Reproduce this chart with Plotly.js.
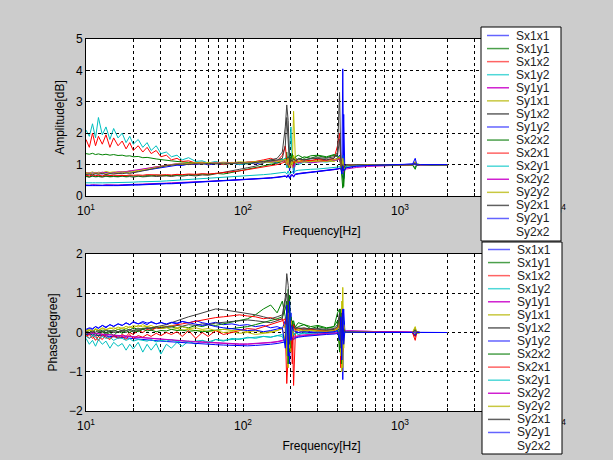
<!DOCTYPE html>
<html>
<head>
<meta charset="utf-8">
<script src="https://cdn.plot.ly/plotly-3.0.1.min.js"></script>
<style>html,body{margin:0;padding:0;background:#cccccc;}#chart{width:613px;height:460px;}</style>
</head>
<body>
<div id="chart"></div>
<script>
// Frequency axis [Hz]
const freq = [10,10.5,11,11.5,12,12.7,13.4,14.2,15,16,
  17,18,19,20,21.5,23,24.5,26,28,30,
  32.5,35,38,41,45,50,55,60,67,75,
  85,95,107,120,135,150,165,178,186,190,
  194,198,202,206,210,216,225,245,270,300,
  340,380,400,412,420,426,432,438,445,455,
  480,530,620,750,900,1100,1200,1250,1280,1350,
  1600,2000];

const seriesNames = ['Sx1x1','Sx1y1','Sx1x2','Sx1y2','Sy1y1','Sy1x1','Sy1x2','Sy1y2',
  'Sx2x2','Sx2x1','Sx2y1','Sx2y2','Sy2y2','Sy2x1','Sy2y1','Sy2x2'];

const xTickVals = [10,20,30,40,50,60,70,80,90,100,200,300,400,500,600,700,800,900,1000,2000,3000,4000,5000,6000,7000,8000,9000,10000];
const xTickText = ['10<sup>1</sup>','','','','','','','','','10<sup>2</sup>','','','','','','','','','10<sup>3</sup>','','','','','','','','','10<sup>4</sup>'];

// Amplitude [dB]
const amp_Sx1x1 = [0.72,0.70,0.74,0.71,0.73,0.70,0.75,0.72,0.74,0.73,
  0.76,0.74,0.78,0.75,0.79,0.80,0.83,0.85,0.88,0.90,
  0.93,0.95,0.98,0.97,1.02,1.00,1.04,0.99,1.03,1.01,
  1.05,1.00,1.06,1.02,1.08,1.10,1.05,1.12,1.20,0.95,
  1.25,0.80,1.15,1.30,0.70,1.10,1.05,1.12,1.08,1.10,
  1.12,1.15,1.20,1.30,1.10,0.70,4.05,0.55,0.90,1.00,
  0.98,1.00,0.99,1.00,0.98,1.00,1.02,1.08,0.97,1.00,
  1.00,0.99];
const amp_Sx1y1 = [1.35,1.33,1.36,1.32,1.34,1.31,1.33,1.30,1.32,1.29,
  1.30,1.27,1.28,1.25,1.26,1.22,1.23,1.20,1.18,1.16,
  1.15,1.12,1.10,1.08,1.07,1.05,1.06,1.03,1.04,1.02,
  1.03,1.05,1.02,1.08,1.10,1.15,1.12,1.18,1.05,1.40,
  0.90,1.30,1.15,1.25,0.95,1.20,1.15,1.25,1.20,1.28,
  1.22,1.30,1.25,1.15,1.10,0.80,0.50,0.30,0.85,0.95,
  0.97,0.99,1.00,0.98,0.99,1.00,0.98,0.90,1.02,1.00,
  0.99,1.00];
const amp_Sx1x2 = [1.80,1.55,2.00,1.60,1.90,1.65,1.95,1.55,1.85,1.60,
  1.75,1.50,1.70,1.45,1.60,1.40,1.55,1.35,1.45,1.25,
  1.30,1.15,1.20,1.10,1.12,1.05,1.08,1.02,1.06,1.00,
  1.05,1.02,1.08,1.10,1.15,1.20,1.12,1.30,1.60,1.10,
  0.95,1.20,1.10,1.15,1.05,1.18,1.10,1.15,1.12,1.18,
  1.15,1.20,1.60,2.00,1.20,0.80,0.95,0.90,0.95,1.00,
  0.98,0.99,1.00,0.99,1.00,1.00,0.99,1.05,0.98,1.00,
  1.00,0.99];
const amp_Sx1y2 = [2.10,1.90,2.30,1.85,2.50,1.95,2.20,1.80,2.15,1.85,
  2.00,1.70,1.90,1.65,1.80,1.55,1.70,1.45,1.60,1.35,
  1.40,1.25,1.30,1.15,1.22,1.10,1.12,1.05,1.10,1.02,
  1.05,1.00,1.04,1.08,1.10,1.05,1.12,1.15,1.20,0.90,
  1.00,1.40,2.20,1.10,0.80,1.05,1.00,1.08,1.05,1.10,
  1.08,1.12,1.15,1.20,1.00,0.75,1.30,0.80,0.95,1.00,
  0.98,1.00,0.99,1.00,0.99,1.00,1.00,1.03,0.98,1.00,
  0.99,1.00];
const amp_Sy1y1 = [0.35,0.34,0.36,0.35,0.35,0.34,0.36,0.35,0.36,0.35,
  0.36,0.36,0.37,0.37,0.38,0.38,0.39,0.39,0.40,0.41,
  0.41,0.42,0.43,0.43,0.44,0.45,0.46,0.47,0.48,0.49,
  0.50,0.51,0.52,0.54,0.56,0.58,0.60,0.62,0.64,0.63,
  0.66,0.62,0.68,0.66,0.65,0.70,0.72,0.74,0.76,0.78,
  0.80,0.83,0.85,0.87,0.86,0.80,0.85,0.75,0.82,0.86,
  0.88,0.91,0.94,0.96,0.98,0.99,0.99,1.00,0.98,0.99,
  1.00,1.00];
const amp_Sy1x1 = [0.75,0.73,0.77,0.72,0.76,0.74,0.78,0.75,0.77,0.76,
  0.78,0.77,0.80,0.79,0.82,0.84,0.87,0.90,0.93,0.95,
  0.97,1.00,1.02,1.05,1.03,1.06,1.04,1.07,1.05,1.08,
  1.06,1.09,1.07,1.10,1.12,1.08,1.14,1.10,1.15,1.05,
  1.10,1.00,1.20,0.90,2.70,1.05,1.10,1.12,1.08,1.10,
  1.12,1.10,1.15,1.20,1.05,0.90,1.10,0.85,0.95,1.00,
  0.98,1.00,0.99,1.00,1.00,0.99,1.00,1.10,0.98,1.00,
  1.00,0.99];
const amp_Sy1x2 = [0.62,0.60,0.63,0.61,0.62,0.60,0.63,0.61,0.62,0.61,
  0.63,0.61,0.62,0.60,0.63,0.61,0.62,0.64,0.62,0.63,
  0.64,0.62,0.65,0.63,0.66,0.64,0.67,0.66,0.70,0.75,
  0.80,0.85,0.90,0.95,1.05,1.15,1.20,1.40,2.20,2.90,
  2.40,1.10,1.20,1.15,1.25,1.10,1.20,1.15,1.18,1.20,
  1.15,1.20,1.40,3.30,1.10,0.90,1.05,0.90,0.95,1.00,
  0.98,1.00,0.99,1.00,0.99,1.00,1.00,1.02,0.98,1.00,
  0.99,1.00];
const amp_Sy1y2 = [0.33,0.32,0.33,0.33,0.32,0.33,0.33,0.32,0.33,0.33,
  0.34,0.34,0.34,0.35,0.35,0.36,0.36,0.37,0.37,0.38,
  0.39,0.39,0.40,0.41,0.42,0.43,0.44,0.45,0.46,0.47,
  0.48,0.50,0.51,0.53,0.55,0.57,0.59,0.61,0.63,0.60,
  0.65,0.58,0.64,0.66,0.62,0.68,0.70,0.72,0.75,0.78,
  0.81,0.84,0.86,0.88,0.90,0.92,1.00,2.60,0.85,0.90,
  0.92,0.95,0.97,0.98,0.99,1.00,1.00,1.20,0.99,1.00,
  1.00,1.00];
const amp_Sx2x2 = [0.63,0.61,0.64,0.62,0.63,0.62,0.64,0.62,0.63,0.62,
  0.64,0.62,0.65,0.63,0.64,0.63,0.65,0.64,0.66,0.65,
  0.66,0.65,0.67,0.66,0.68,0.67,0.70,0.68,0.72,0.70,
  0.75,0.80,0.85,0.90,0.95,1.00,1.05,1.10,1.15,1.20,
  1.10,1.30,1.20,1.35,1.15,1.25,1.30,1.20,1.28,1.30,
  1.25,1.32,1.28,1.20,1.00,0.40,0.25,0.60,0.90,0.97,
  0.99,1.00,0.99,1.00,0.98,1.00,0.99,0.85,1.01,1.00,
  1.00,0.99];
const amp_Sx2x1 = [0.66,0.64,0.67,0.65,0.66,0.64,0.67,0.65,0.66,0.65,
  0.66,0.65,0.67,0.66,0.67,0.66,0.68,0.67,0.68,0.67,
  0.68,0.67,0.69,0.68,0.70,0.69,0.71,0.70,0.72,0.74,
  0.76,0.80,0.84,0.88,0.92,0.96,1.00,1.05,1.10,1.00,
  1.20,0.90,1.10,1.05,0.95,1.12,1.08,1.10,1.12,1.15,
  1.12,1.15,1.18,1.20,1.05,0.85,0.95,0.88,0.95,1.00,
  0.98,1.00,0.99,1.00,1.00,0.99,1.00,1.04,0.98,1.00,
  1.00,1.00];
const amp_Sx2y1 = [0.42,0.41,0.42,0.42,0.41,0.42,0.42,0.42,0.43,0.43,
  0.43,0.44,0.44,0.44,0.45,0.45,0.46,0.46,0.47,0.47,
  0.48,0.49,0.50,0.51,0.52,0.53,0.54,0.55,0.57,0.58,
  0.60,0.62,0.64,0.66,0.68,0.70,0.72,0.74,0.76,0.70,
  0.80,0.68,0.75,0.78,0.72,0.80,0.82,0.84,0.85,0.86,
  0.88,0.90,0.92,0.94,0.90,0.80,0.95,0.85,0.92,0.95,
  0.96,0.98,0.99,1.00,0.99,1.00,1.00,1.02,0.99,1.00,
  1.00,1.00];
const amp_Sx2y2 = [0.72,0.74,0.71,0.75,0.72,0.76,0.73,0.75,0.74,0.77,
  0.76,0.78,0.79,0.81,0.83,0.86,0.88,0.91,0.94,0.96,
  0.98,1.00,1.03,1.01,1.04,1.02,1.05,1.03,1.06,1.04,
  1.07,1.05,1.08,1.06,1.10,1.08,1.12,1.10,1.15,1.00,
  1.15,0.95,1.10,1.05,0.90,1.08,1.05,1.10,1.06,1.08,
  1.10,1.12,1.15,1.18,1.05,0.85,1.00,0.90,0.96,1.00,
  0.99,1.00,1.00,1.00,0.99,1.00,1.00,1.03,0.99,1.00,
  1.00,1.00];
const amp_Sy2y2 = [0.70,0.73,0.69,0.74,0.71,0.73,0.70,0.75,0.72,0.74,
  0.73,0.76,0.75,0.78,0.80,0.82,0.85,0.88,0.92,0.94,
  0.97,0.99,1.02,1.00,1.05,1.03,1.06,1.02,1.05,1.03,
  1.06,1.04,1.08,1.05,1.09,1.07,1.10,1.12,1.18,1.00,
  1.20,0.90,1.12,1.00,1.30,1.05,1.10,1.08,1.10,1.12,
  1.10,1.14,1.18,1.25,1.10,0.80,1.20,0.85,0.95,1.00,
  0.98,1.00,0.99,1.00,1.00,1.00,0.99,1.06,0.98,1.00,
  0.99,1.00];
const amp_Sy2x1 = [0.68,0.70,0.67,0.71,0.69,0.72,0.68,0.71,0.70,0.72,
  0.71,0.73,0.72,0.75,0.77,0.80,0.83,0.86,0.90,0.93,
  0.96,0.98,1.00,1.02,1.00,1.03,1.01,1.04,1.02,1.05,
  1.03,1.06,1.04,1.08,1.10,1.12,1.15,1.20,1.60,2.50,
  1.80,1.00,1.15,1.10,1.20,1.12,1.18,1.15,1.20,1.22,
  1.20,1.25,1.30,1.80,1.10,0.80,1.00,0.88,0.95,1.00,
  0.98,1.00,0.99,1.00,1.00,0.99,1.00,1.04,0.98,1.00,
  1.00,1.00];
const amp_Sy2y1 = [0.34,0.33,0.34,0.34,0.33,0.34,0.34,0.33,0.34,0.34,
  0.35,0.35,0.35,0.36,0.36,0.37,0.37,0.38,0.38,0.39,
  0.40,0.40,0.41,0.42,0.43,0.44,0.45,0.46,0.47,0.48,
  0.49,0.51,0.52,0.54,0.56,0.58,0.60,0.62,0.64,0.58,
  0.68,0.56,0.66,0.68,0.60,0.70,0.72,0.74,0.76,0.79,
  0.82,0.85,0.87,0.89,0.88,0.70,0.95,0.80,0.86,0.90,
  0.92,0.95,0.97,0.98,0.99,1.00,1.00,1.02,0.99,1.00,
  1.00,1.00];

// Phase [degree]
const ph_Sx1x1 = [0.05,0.10,0.08,0.15,0.10,0.18,0.12,0.20,0.15,0.22,
  0.18,0.25,0.20,0.28,0.22,0.25,0.20,0.28,0.22,0.26,
  0.20,0.25,0.22,0.28,0.24,0.30,0.25,0.22,0.26,0.20,
  0.22,0.18,0.20,0.15,0.18,0.12,0.15,0.10,0.30,-0.50,
  0.60,-0.80,0.50,-0.30,0.20,0.05,0.00,0.05,0.02,0.00,
  0.02,0.00,0.05,0.10,-0.20,0.60,-1.20,0.30,0.05,0.02,
  0.01,0.00,0.01,0.00,0.01,0.00,0.00,0.10,-0.02,0.00,
  0.00,0.00];
const ph_Sx1y1 = [0.00,0.05,-0.02,0.08,0.02,0.06,0.00,0.05,0.03,0.08,
  0.05,0.10,0.06,0.12,0.08,0.10,0.12,0.08,0.12,0.10,
  0.12,0.15,0.10,0.15,0.12,0.18,0.15,0.20,0.18,0.22,
  0.25,0.30,0.35,0.45,0.60,0.70,0.50,0.80,0.40,-0.60,
  1.10,-0.50,0.40,0.20,0.30,0.10,0.15,0.20,0.10,0.15,
  0.10,0.15,0.50,0.60,-0.80,0.30,0.10,-0.20,0.05,0.02,
  0.02,0.01,0.00,0.01,0.00,0.00,0.00,-0.10,0.02,0.00,
  0.00,0.00];
const ph_Sx1x2 = [-0.05,-0.15,-0.08,-0.20,-0.10,-0.18,-0.05,-0.15,-0.08,-0.12,
  -0.05,-0.10,0.00,-0.05,0.05,0.00,0.08,0.05,0.12,0.10,
  0.15,0.18,0.20,0.22,0.25,0.28,0.32,0.35,0.38,0.40,
  0.42,0.45,0.42,0.40,0.35,0.38,0.32,0.35,0.10,-1.30,
  -0.60,0.30,-0.40,0.20,-1.35,0.10,0.05,0.10,0.08,0.05,
  0.05,0.08,0.10,0.30,-0.90,0.60,-0.50,0.20,0.02,0.01,
  0.01,0.00,0.00,0.00,0.00,0.00,0.00,-0.20,0.01,0.00,
  0.00,0.00];
const ph_Sx1y2 = [-0.15,-0.30,-0.20,-0.35,-0.18,-0.30,-0.22,-0.40,-0.25,-0.35,
  -0.28,-0.45,-0.30,-0.42,-0.25,-0.50,-0.30,-0.45,-0.28,-0.55,
  -0.30,-0.40,-0.25,-0.35,-0.22,-0.30,-0.20,-0.28,-0.18,-0.22,
  -0.15,-0.18,-0.12,-0.15,-0.10,-0.12,-0.08,-0.05,-0.20,0.40,
  -0.60,0.50,-0.30,0.20,-0.10,0.00,-0.05,0.00,-0.02,0.00,
  0.00,0.02,0.05,-0.20,0.30,-0.50,0.20,0.10,0.02,0.01,
  0.00,0.00,0.01,0.00,0.00,0.00,0.00,0.05,0.00,0.00,
  0.00,0.00];
const ph_Sy1y1 = [-0.02,-0.03,-0.03,-0.04,-0.04,-0.05,-0.05,-0.06,-0.07,-0.08,
  -0.09,-0.10,-0.11,-0.12,-0.13,-0.14,-0.15,-0.16,-0.17,-0.18,
  -0.19,-0.20,-0.21,-0.22,-0.23,-0.24,-0.25,-0.26,-0.27,-0.28,
  -0.29,-0.30,-0.30,-0.29,-0.28,-0.26,-0.24,-0.22,-0.20,-0.15,
  -0.25,-0.10,-0.20,-0.12,-0.15,-0.12,-0.10,-0.08,-0.07,-0.05,
  -0.04,-0.03,-0.02,-0.01,0.05,-0.10,0.05,0.08,0.05,0.04,
  0.04,0.03,0.03,0.02,0.02,0.01,0.01,0.01,0.01,0.00,
  0.00,0.00];
const ph_Sy1x1 = [0.05,0.08,0.04,0.10,0.06,0.12,0.08,0.10,0.12,0.08,
  0.12,0.10,0.15,0.12,0.18,0.14,0.16,0.12,0.15,0.10,
  0.12,0.08,0.10,0.06,0.08,0.05,0.06,0.02,0.05,0.00,
  0.02,-0.02,0.00,-0.05,-0.02,0.00,0.05,0.10,-0.20,0.30,
  -0.90,0.40,-0.50,0.20,0.05,0.10,0.05,0.02,0.05,0.02,
  0.03,0.05,0.08,-0.30,0.40,-1.00,1.15,-0.40,0.05,0.02,
  0.02,0.01,0.01,0.00,0.00,0.00,0.00,0.15,-0.02,0.00,
  0.00,0.00];
const ph_Sy1x2 = [0.00,-0.02,0.02,-0.03,0.00,0.02,-0.02,0.03,0.00,0.02,
  0.03,0.00,0.05,0.02,0.06,0.08,0.10,0.12,0.15,0.18,
  0.20,0.25,0.30,0.35,0.40,0.45,0.50,0.55,0.60,0.58,
  0.55,0.52,0.48,0.45,0.40,0.35,0.40,0.45,0.90,1.50,
  1.20,0.40,0.30,0.20,0.10,0.15,0.10,0.12,0.08,0.10,
  0.08,0.10,0.20,0.50,-0.20,0.30,-0.30,0.10,0.02,0.01,
  0.01,0.00,0.00,0.00,0.00,0.00,0.00,0.08,0.00,0.00,
  0.00,0.00];
const ph_Sy1y2 = [-0.05,-0.05,-0.06,-0.07,-0.08,-0.08,-0.09,-0.10,-0.11,-0.12,
  -0.13,-0.14,-0.15,-0.16,-0.17,-0.18,-0.19,-0.20,-0.21,-0.22,
  -0.23,-0.24,-0.25,-0.26,-0.27,-0.28,-0.29,-0.30,-0.31,-0.32,
  -0.33,-0.34,-0.34,-0.33,-0.32,-0.30,-0.28,-0.26,-0.24,-0.10,
  -0.30,-0.12,-0.22,-0.15,-0.18,-0.14,-0.12,-0.10,-0.08,-0.06,
  -0.05,-0.04,-0.03,-0.02,0.10,-0.30,0.20,0.60,0.05,0.03,
  0.03,0.02,0.02,0.01,0.01,0.01,0.00,0.00,0.00,0.00,
  0.00,0.00];
const ph_Sx2x2 = [-0.05,0.00,-0.08,-0.02,-0.10,0.02,-0.05,0.00,-0.08,0.03,
  -0.02,0.05,0.00,0.06,0.02,0.08,0.04,0.06,0.02,0.05,
  0.04,0.08,0.05,0.06,0.03,0.05,0.02,0.04,0.06,0.08,
  0.10,0.12,0.15,0.20,0.25,0.30,0.35,0.40,0.60,0.80,
  -0.80,0.95,-0.40,0.30,0.20,0.15,0.25,0.20,0.15,0.18,
  0.12,0.15,0.30,-0.50,0.60,-0.80,0.40,-0.10,0.03,0.02,
  0.01,0.01,0.00,0.00,0.00,0.00,0.00,-0.05,0.01,0.00,
  0.00,0.00];
const ph_Sx2x1 = [-0.10,-0.05,-0.15,-0.08,-0.20,-0.05,-0.12,-0.18,-0.08,-0.15,
  -0.10,-0.18,-0.05,-0.15,-0.08,-0.12,-0.05,-0.10,-0.02,-0.08,
  0.00,-0.05,0.02,-0.10,0.05,-0.15,0.00,-0.10,0.05,-0.05,
  0.00,0.05,0.10,0.08,0.15,0.20,0.25,0.30,0.35,0.10,
  -0.40,-0.20,0.30,-0.80,0.20,0.05,0.10,0.05,0.08,0.05,
  0.04,0.05,0.10,0.20,-0.30,0.60,-0.20,0.10,0.02,0.01,
  0.01,0.00,0.00,0.00,0.00,0.00,0.00,-0.10,0.00,0.00,
  0.00,0.00];
const ph_Sx2y1 = [-0.10,-0.15,-0.08,-0.12,-0.18,-0.10,-0.15,-0.12,-0.20,-0.14,
  -0.15,-0.20,-0.16,-0.22,-0.18,-0.20,-0.22,-0.18,-0.24,-0.20,
  -0.22,-0.18,-0.24,-0.20,-0.25,-0.22,-0.20,-0.24,-0.18,-0.20,
  -0.18,-0.15,-0.14,-0.12,-0.10,-0.12,-0.08,-0.10,-0.30,0.20,
  -0.40,0.60,-0.20,0.10,-0.05,0.00,-0.05,-0.02,-0.04,-0.02,
  -0.02,0.00,0.05,-0.10,0.20,-0.40,0.30,-0.10,0.01,0.00,
  0.00,0.00,0.00,0.00,0.00,0.00,0.00,0.02,0.00,0.00,
  0.00,0.00];
const ph_Sx2y2 = [0.00,-0.02,-0.01,-0.03,-0.03,-0.04,-0.05,-0.06,-0.06,-0.07,
  -0.08,-0.09,-0.10,-0.11,-0.12,-0.13,-0.14,-0.15,-0.16,-0.17,
  -0.18,-0.19,-0.20,-0.21,-0.22,-0.23,-0.24,-0.25,-0.26,-0.27,
  -0.28,-0.29,-0.29,-0.28,-0.27,-0.25,-0.23,-0.21,-0.18,-0.10,
  -0.22,-0.08,-0.18,-0.10,-0.12,-0.10,-0.08,-0.06,-0.05,-0.04,
  -0.03,-0.02,-0.01,0.00,0.06,-0.08,0.06,0.07,0.05,0.04,
  0.04,0.03,0.03,0.02,0.02,0.01,0.01,0.02,0.01,0.00,
  0.00,0.00];
const ph_Sy2y2 = [0.02,0.06,0.03,0.08,0.05,0.10,0.06,0.12,0.08,0.14,
  0.10,0.16,0.12,0.18,0.14,0.20,0.15,0.18,0.12,0.16,
  0.14,0.18,0.12,0.15,0.10,0.12,0.08,0.10,0.05,0.08,
  0.05,0.06,0.02,0.04,0.00,0.02,0.05,0.10,0.20,-0.60,
  0.50,-0.40,0.30,-0.10,0.10,0.05,0.08,0.05,0.06,0.04,
  0.04,0.06,0.10,0.30,-0.60,0.80,-0.90,0.20,0.03,0.02,
  0.02,0.01,0.01,0.00,0.00,0.00,0.00,0.12,-0.02,0.00,
  0.00,0.00];
const ph_Sy2x1 = [0.02,0.00,0.04,0.01,0.05,0.02,0.06,0.03,0.05,0.02,
  0.06,0.04,0.08,0.05,0.10,0.08,0.12,0.10,0.14,0.12,
  0.15,0.14,0.18,0.16,0.20,0.18,0.22,0.20,0.24,0.26,
  0.28,0.30,0.32,0.30,0.28,0.25,0.30,0.35,0.80,1.00,
  0.30,-0.30,0.20,0.10,0.15,0.10,0.12,0.08,0.10,0.08,
  0.06,0.08,0.15,0.40,-0.40,0.50,-0.20,0.10,0.02,0.01,
  0.01,0.00,0.00,0.00,0.00,0.00,0.00,0.06,0.00,0.00,
  0.00,0.00];
const ph_Sy2y1 = [0.08,0.12,0.10,0.15,0.12,0.18,0.14,0.20,0.16,0.22,
  0.18,0.24,0.20,0.26,0.22,0.28,0.24,0.26,0.22,0.25,
  0.22,0.26,0.24,0.28,0.25,0.22,0.18,0.20,0.15,0.12,
  0.10,0.08,0.05,0.06,0.02,0.05,0.08,0.12,-0.40,0.70,
  -0.60,0.80,-0.20,0.15,0.05,0.02,0.00,0.02,0.00,0.01,
  0.00,0.02,0.05,-0.20,0.40,-0.70,0.60,-0.30,0.02,0.01,
  0.01,0.00,0.00,0.00,0.00,0.00,0.00,-0.08,0.00,0.00,
  0.00,0.00];

const ampSeries = [amp_Sx1x1,amp_Sx1y1,amp_Sx1x2,amp_Sx1y2,amp_Sy1y1,amp_Sy1x1,amp_Sy1x2,amp_Sy1y2,
  amp_Sx2x2,amp_Sx2x1,amp_Sx2y1,amp_Sx2y2,amp_Sy2y2,amp_Sy2x1,amp_Sy2y1];
const phSeries = [ph_Sx1x1,ph_Sx1y1,ph_Sx1x2,ph_Sx1y2,ph_Sy1y1,ph_Sy1x1,ph_Sy1x2,ph_Sy1y2,
  ph_Sx2x2,ph_Sx2x1,ph_Sx2y1,ph_Sx2y2,ph_Sy2y2,ph_Sy2x1,ph_Sy2y1];

// MATLAB colour order b g r c m y k
const lineColors = ['#0000ff','#008000','#ff0000','#00bfbf','#bf00bf','#bfbf00','#404040'];
const legendColors = ['#6464ff','#4ca04c','#ff6464','#50d8d8','#d020d0','#c8c840','#606060'];

const traces = [];
ampSeries.forEach((s, i) => {
  traces.push({x: freq, y: s, xaxis: 'x', yaxis: 'y', mode: 'lines', name: seriesNames[i],
    line: {color: lineColors[i % 7], width: 1}, showlegend: false, hoverinfo: 'skip'});
});
phSeries.forEach((s, i) => {
  traces.push({x: freq, y: s, xaxis: 'x2', yaxis: 'y2', mode: 'lines', name: seriesNames[i],
    line: {color: lineColors[i % 7], width: 1}, showlegend: false, hoverinfo: 'skip'});
});

const W = 613, H = 460;
const px = v => v / W;
const py = v => 1 - v / H;

const FONT = {family: 'Liberation Sans, Arial, sans-serif', size: 12, color: '#000'};

function xAxis(anchor) {
  return {
    type: 'log', range: [1, 4], domain: [px(86), px(557)], anchor: anchor,
    tickmode: 'array', tickvals: xTickVals, ticktext: xTickText,
    showgrid: true, gridcolor: '#000', griddash: '3px,3px', gridwidth: 1,
    showline: true, linecolor: '#000', linewidth: 1, mirror: 'ticks',
    ticks: 'inside', ticklen: 3, tickcolor: '#000', zeroline: false,
    tickfont: FONT, automargin: false, ticklabelstandoff: 4,
    title: {text: 'Frequency[Hz]', font: FONT, standoff: 9}
  };
}
function yAxis(anchor, top, bottom, range, title) {
  return {
    range: range, domain: [py(bottom), py(top)], anchor: anchor,
    tickmode: 'linear', tick0: range[0], dtick: 1,
    showgrid: true, gridcolor: '#000', griddash: '3px,3px', gridwidth: 1,
    showline: true, linecolor: '#000', linewidth: 1, mirror: 'ticks',
    ticks: 'inside', ticklen: 4, tickcolor: '#000', zeroline: false,
    tickfont: FONT, automargin: false,
    title: {text: title, font: FONT, standoff: 8}
  };
}

// Manual MATLAB-style legends
const shapes = [];
const annotations = [];
function addLegend(x0, x1, y0, y1, firstY) {
  shapes.push({type: 'rect', xref: 'paper', yref: 'paper', layer: 'above',
    x0: px(x0), x1: px(x1), y0: py(y1), y1: py(y0),
    fillcolor: '#ffffff', line: {color: '#000', width: 1}});
  const step = 13.07;
  seriesNames.forEach((n, i) => {
    const yy = firstY + i * step;
    if (i < ampSeries.length) {
      shapes.push({type: 'line', xref: 'paper', yref: 'paper', layer: 'above',
        x0: px(x0 + 6), x1: px(x0 + 28), y0: py(yy), y1: py(yy),
        line: {color: legendColors[i % 7], width: 1.5}});
    }
    annotations.push({xref: 'paper', yref: 'paper', x: px(x0 + 33), y: py(yy),
      xanchor: 'left', yanchor: 'middle', text: n, showarrow: false,
      font: {family: FONT.family, size: 12, color: '#222'}});
  });
}
addLegend(481, 561, 27, 241, 35.5);
addLegend(482, 562, 242, 454, 249.5);

const layout = {
  width: W, height: H,
  margin: {l: 0, r: 0, t: 0, b: 0},
  paper_bgcolor: '#cccccc', plot_bgcolor: '#ffffff',
  font: FONT, showlegend: false,
  xaxis: xAxis('y'),
  yaxis: yAxis('x', 39, 196, [0, 5], 'Amplitude[dB]'),
  xaxis2: xAxis('y2'),
  yaxis2: yAxis('x2', 254, 411, [-2, 2], 'Phase[degree]'),
  shapes: shapes,
  annotations: annotations
};

Plotly.newPlot('chart', traces, layout, {staticPlot: true, displayModeBar: false});
</script>
</body>
</html>
